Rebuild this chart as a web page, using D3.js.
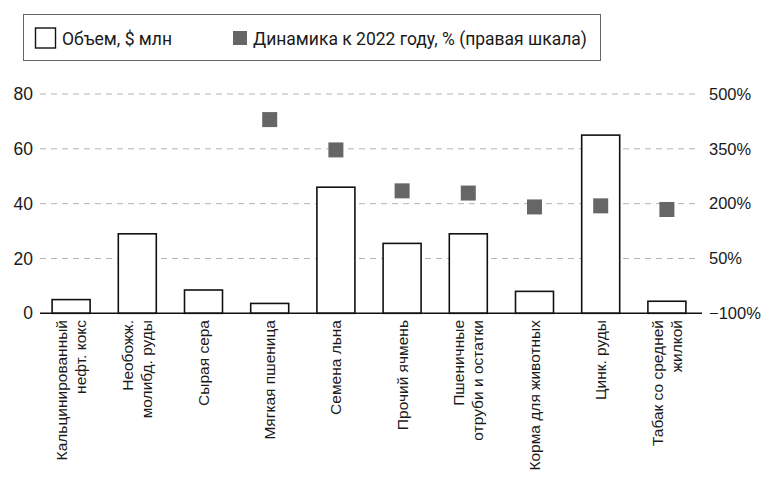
<!DOCTYPE html>
<html>
<head>
<meta charset="utf-8">
<script src="https://cdn.jsdelivr.net/npm/d3@7/dist/d3.min.js"></script>
<style>
  html, body { margin: 0; padding: 0; background: #fff; }
  svg { display: block; }
</style>
</head>
<body>
<script>
const categories = [
  ["Кальцинированный", "нефт. кокс"],
  ["Необожж.", "молибд. руды"],
  ["Сырая сера"],
  ["Мягкая пшеница"],
  ["Семена льна"],
  ["Прочий ячмень"],
  ["Пшеничные", "отруби и остатки"],
  ["Корма для животных"],
  ["Цинк. руды"],
  ["Табак со средней", "жилкой"]
];
const volume = [5, 29, 8.5, 3.6, 46, 25.5, 29, 8, 65, 4.4];
const dynamics = [null, null, null, 430, 347, 235, 229, 191, 194, 184];
const leftTicks = [0, 20, 40, 60, 80];
const rightTicks = [-100, 50, 200, 350, 500];
const legendLabels = ["Объем, $ млн", "Динамика к 2022 году, % (правая шкала)"];

const W = 763, H = 482;
const svg = d3.select("body").append("svg").attr("width", W).attr("height", H);

const font = "'Liberation Sans', Arial, sans-serif";
const keys = categories.map((c, i) => i);

const x = d3.scaleBand().domain(keys).range([38, 700]).paddingInner(0.426).paddingOuter(0.213);
const y = d3.scaleLinear().domain([0, 80]).range([313.3, 94]);
const y2 = d3.scaleLinear().domain([-100, 500]).range([313.3, 94]);

// gridlines
svg.append("g").selectAll("line").data(leftTicks.filter(d => d > 0)).join("line")
  .attr("x1", 40).attr("x2", 700)
  .attr("y1", d => y(d)).attr("y2", d => y(d))
  .attr("stroke", "#b3b3b3").attr("stroke-width", 1).attr("stroke-dasharray", "6,5");

// left ticks
const gl = svg.append("g").attr("transform", "translate(33,0)")
  .call(d3.axisLeft(y).tickValues(leftTicks).tickSize(0).tickPadding(0));
gl.select(".domain").remove();
gl.selectAll("text").attr("font-family", font).attr("font-size", 17.5).attr("fill", "#1a1a1a");

// right ticks
const gr = svg.append("g").attr("transform", "translate(709,0)")
  .call(d3.axisRight(y2).tickValues(rightTicks).tickSize(0).tickPadding(0)
    .tickFormat(d => (d < 0 ? "\u2212" + Math.abs(d) : d) + "%"));
gr.select(".domain").remove();
gr.selectAll("text").attr("font-family", font).attr("font-size", 16.5).attr("fill", "#1a1a1a");

// bars
svg.append("g").selectAll("rect").data(volume).join("rect")
  .attr("x", (d, i) => x(i))
  .attr("y", d => y(d))
  .attr("width", x.bandwidth())
  .attr("height", d => y(0) - y(d))
  .attr("fill", "#fff").attr("stroke", "#111").attr("stroke-width", 1.6);

// baseline
svg.append("line").attr("x1", 40).attr("x2", 702).attr("y1", y(0)).attr("y2", y(0))
  .attr("stroke", "#111").attr("stroke-width", 1.6);

// squares
const sq = 15;
svg.append("g").selectAll("rect").data(dynamics.map((v, i) => ({v, i})).filter(d => d.v != null)).join("rect")
  .attr("x", d => x(d.i) + x.bandwidth() / 2 - sq / 2)
  .attr("y", d => y2(d.v) - sq / 2)
  .attr("width", sq).attr("height", sq)
  .attr("fill", "#666");

// category labels
const lineGap = 19;
const lbl = svg.append("g");
categories.forEach((lines, i) => {
  const cx = x(i) + x.bandwidth() / 2;
  const n = lines.length;
  lines.forEach((t, j) => {
    const off = (j - (n - 1) / 2) * lineGap;
    const bx = cx + off + 5.5;
    lbl.append("text")
      .attr("transform", `translate(${bx},320) rotate(-90)`)
      .attr("text-anchor", "end")
      .attr("font-family", font).attr("font-size", 15.5).attr("fill", "#1a1a1a")
      .text(t);
  });
});

// legend
svg.append("rect").attr("x", 23.5).attr("y", 14.5).attr("width", 577).attr("height", 46)
  .attr("fill", "none").attr("stroke", "#666").attr("stroke-width", 1);
svg.append("rect").attr("x", 35.5).attr("y", 28).attr("width", 20).attr("height", 20)
  .attr("fill", "#fff").attr("stroke", "#111").attr("stroke-width", 1.4);
svg.append("text").attr("x", 62).attr("y", 44.5).attr("font-family", "Roboto, sans-serif")
  .attr("font-size", 17.5).attr("fill", "#1a1a1a").text(legendLabels[0]);
svg.append("rect").attr("x", 233).attr("y", 31).attr("width", 14).attr("height", 14).attr("fill", "#666");
svg.append("text").attr("x", 253).attr("y", 44.5).attr("font-family", "Roboto, sans-serif")
  .attr("font-size", 17.5).attr("fill", "#1a1a1a").text(legendLabels[1]);
</script>
</body>
</html>
